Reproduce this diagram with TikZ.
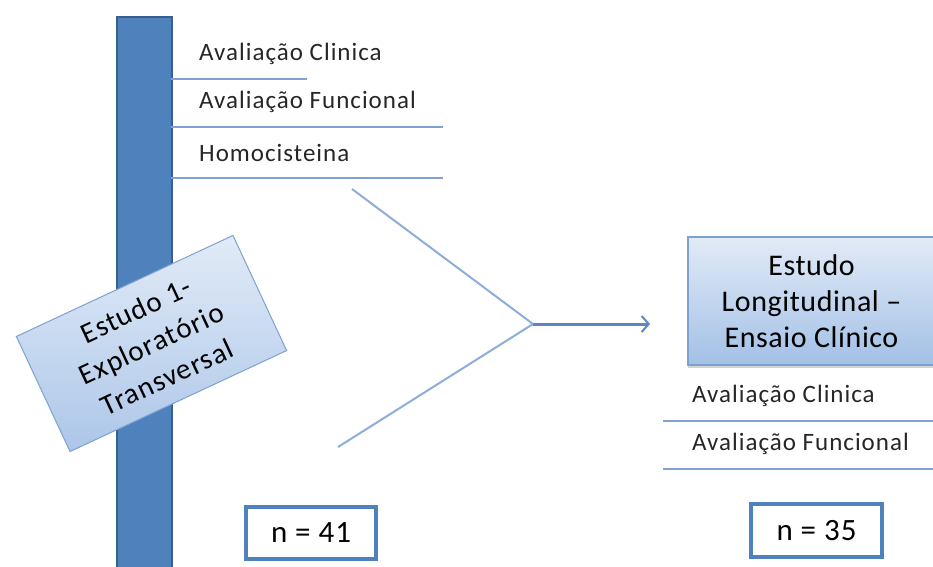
\documentclass[tikz,border=0pt]{standalone}
\usepackage{fontspec}
\setmainfont{Carlito}
\usetikzlibrary{arrows.meta,shadows}
\definecolor{barfill}{HTML}{4F81BD}
\definecolor{bardraw}{HTML}{3A5F8C}
\definecolor{sepline}{HTML}{7FA2D2}
\definecolor{convline}{HTML}{8FADD9}
\definecolor{arrline}{HTML}{5B86C2}
\definecolor{boxtop}{HTML}{E2EBF7}
\definecolor{boxbot}{HTML}{A3C0E6}
\definecolor{boxdraw}{HTML}{7DA2CF}
\definecolor{nborder}{HTML}{4F81BD}
\tikzset{
  bar/.style={fill=barfill, draw=bardraw, line width=1.5pt},
  sep/.style={draw=sepline, line width=1.6pt},
  lbl/.style={anchor=west, inner sep=0pt, font=\fontsize{25}{28}\selectfont\addfontfeatures{LetterSpace=4}, text=black!85},
  conv/.style={draw=convline, line width=2pt},
  mainarr/.style={draw=arrline, line width=3pt, -{Straight Barb[length=7pt,width=16pt,line width=2pt]}},
  tbox/.style={draw=boxdraw, line width=1pt, top color=boxtop, bottom color=boxbot!90, align=center,
     font=\fontsize{29}{37}\selectfont\addfontfeatures{LetterSpace=4}, inner sep=0pt},
  rbox/.style={draw=boxdraw, line width=1.2pt, top color=boxtop, bottom color=boxbot, align=center,
     font=\fontsize{30}{36}\selectfont\addfontfeatures{LetterSpace=2}, inner sep=0pt, drop shadow={shadow xshift=0pt, shadow yshift=-3pt, opacity=0.35}},
  nbox/.style={draw=nborder, line width=3.5pt, fill=white, font=\fontsize{31}{34}\selectfont\addfontfeatures{LetterSpace=3}, inner sep=0pt}
}
\begin{document}
\begin{tikzpicture}[x=1pt,y=-1pt]
\useasboundingbox (0,0) rectangle (933,566);
% vertical bar
\node[bar, minimum width=55pt, minimum height=560pt, anchor=north west, inner sep=0pt] (bar) at (116,16) {};
% separator lines (left)
\draw[sep] (171,79) -- (307,79);
\draw[sep] (171,127) -- (443,127);
\draw[sep] (171,178) -- (443,178);
% left labels
\node[lbl] (lc) at (199,54) {Avaliação Clinica};
\node[lbl] (lf) at (199,102) {Avaliação Funcional};
\node[lbl] (lh) at (199,153) {Homocisteina};
% converging lines and arrow
\coordinate (u) at (352,189);
\coordinate (l) at (338,447);
\coordinate (j) at (533,324);
\coordinate (tip) at (650,324);
\draw[conv] (u) -- (j) -- (l);
\draw[mainarr] (j) -- (tip);
% right box
\node[rbox, minimum width=247pt, minimum height=128pt] (long) at (811.5,301) {Estudo\\Longitudinal –\\Ensaio Clínico};
% right separators and labels
\node[lbl] (rc) at (692,396) {Avaliação Clinica};
\node[lbl] (rf) at (692,444) {Avaliação Funcional};
\draw[sep] (663,421) -- (933,421);
\draw[sep] (663,469) -- (933,469);
% rotated box
\node[tbox, rotate=25, minimum width=239pt, minimum height=127pt] (e1) at (151.5,343.5) {Estudo 1-\\Exploratório\\Transversal};
% n boxes
\node[nbox, minimum width=130pt, minimum height=52pt] (n41) at (311,533) {n = 41};
\node[nbox, minimum width=131pt, minimum height=53pt] (n35) at (816.5,530.5) {n = 35};
\end{tikzpicture}
\end{document}
